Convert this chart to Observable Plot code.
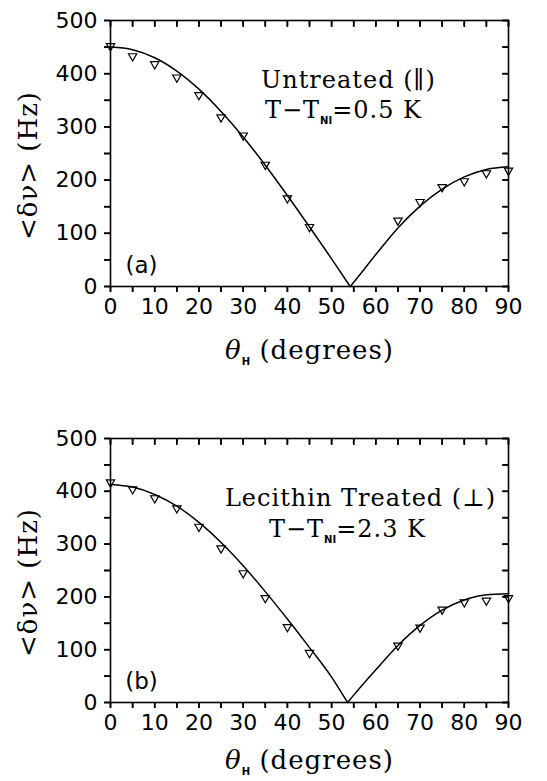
<!DOCTYPE html>
<html><head><meta charset="utf-8">
<script src="https://cdn.jsdelivr.net/npm/d3@7"></script>
<script src="https://cdn.jsdelivr.net/npm/@observablehq/plot@0.6"></script>
<style>
body{margin:0;background:#fff;}
#chart svg{display:block;}
</style></head><body><div id="chart"></div>
<script>
// ---- tick labels ----
const thetaTicks = [0,10,20,30,40,50,60,70,80,90];
const thetaMinorTicks = [0,5,10,15,20,25,30,35,40,45,50,55,60,65,70,75,80,85,90];
const nuTicks = [0,100,200,300,400,500];
const nuMinorTicks = [0,50,100,150,200,250,300,350,400,450,500];

// ---- panel (a): untreated, measured points ----
const thetaA = [0,5,10,15,20,25,30,35,40,45,65,70,75,80,85,90];
const nuA = [452,433,418,393,360,318,284,229,166,112,124,159,187,198,213,218];
// fitted curve (a), two branches meeting at zero
const fitThetaALeft = [0,5,10,15,20,25,30,35,40,45,50,54.2];
const fitNuALeft = [450,445,430,405,371,329,281,228,171,112,52,0];
const fitThetaARight = [54.2,55,60,65,70,75,80,85,90];
const fitNuARight = [0,8,60,110,151,183,206,220,225];

// ---- panel (b): lecithin treated, measured points ----
const thetaB = [0,5,10,15,20,25,30,35,40,45,65,70,75,80,85,90];
const nuB = [417,404,387,368,333,292,245,198,143,94,108,142,176,190,193,198];
const fitThetaBLeft = [0,5,10,15,20,25,30,35,40,45,50,53.6];
const fitNuBLeft = [413,408,394,372,341,303,259,210,158,104,48,0];
const fitThetaBRight = [53.6,55,60,65,70,75,80,85,90];
const fitNuBRight = [0,14,62,108,146,175,194,204,206];

// ---- texts ----
const xTitle = "~θ~_{H} (degrees)";
const yTitle = "<δν> (Hz)";
const labelsA = ["(a)", "Untreated (∥)", "T−T_{NI}=0.5 K"];
const labelsB = ["(b)", "Lecithin Treated (⊥)", "T−T_{NI}=2.3 K"];

const serif = "'DejaVu Serif', serif";
const sans = "'DejaVu Sans', sans-serif";

function rich(svg) {
  d3.select(svg).selectAll("text").each(function () {
    const s = this.textContent;
    if (!/_\{|~/.test(s)) return;
    const parts = s.split(/(_\{[^}]*\}|~[^~]*~)/).filter(p => p !== "");
    const sel = d3.select(this);
    this.textContent = "";
    let shifted = false;
    for (const p of parts) {
      const t = sel.append("tspan");
      if (p.startsWith("_{")) {
        t.text(p.slice(2, -1)).attr("font-size", 10).attr("font-weight", "bold")
          .attr("font-family", sans).attr("dy", 6).attr("letter-spacing", 0);
        shifted = true;
      } else {
        if (shifted) { t.attr("dy", -6); shifted = false; }
        if (p.startsWith("~")) t.text(p.slice(1, -1)).attr("font-style", "italic");
        else t.text(p);
      }
    }
  });
}

const W = 547, ML = 110, MR = 39;
const id = d => d;
const blank = () => "";

function panel(o) {
  const pts = o.theta.map((t, i) => ({theta: t, nu: o.nu[i]}));
  const fit = [
    ...o.fitTL.map((t, i) => ({theta: t, nu: o.fitNL[i], branch: "L"})),
    ...o.fitTR.map((t, i) => ({theta: t, nu: o.fitNR[i], branch: "R"}))
  ];
  const fh = o.h - o.mt - o.mb;   // frame height in px
  const fw = W - ML - MR;         // frame width in px
  const tick = {stroke: "#000", strokeWidth: 1.6};
  const svg = Plot.plot({
    width: W, height: o.h,
    marginLeft: ML, marginRight: MR, marginTop: o.mt, marginBottom: o.mb,
    x: {domain: [0, 90]}, y: {domain: [0, 500]},
    style: {fontFamily: sans, background: "white", color: "black", overflow: "visible"},
    marks: [
      Plot.line(fit, {x: "theta", y: "nu", z: "branch", curve: "monotone-x", stroke: "black", strokeWidth: 1.5}),
      Plot.dot(pts, {x: "theta", y: "nu", symbol: "triangle", rotate: 180, r: 3.1, stroke: "black", strokeWidth: 1.2, fill: "none"}),
      Plot.frame({stroke: "black", strokeWidth: 1.6}),
      // ticks drawn by axis marks: bottom & left outward, top & right inward
      Plot.axisX({anchor: "bottom", ticks: thetaMinorTicks, tickSize: 6, tickFormat: blank, stroke: "#000", strokeWidth: 1.6, label: null}),
      Plot.axisX({anchor: "top", ticks: thetaMinorTicks, tickSize: -6, tickFormat: blank, stroke: "#000", strokeWidth: 1.6, label: null}),
      Plot.axisY({anchor: "left", ticks: nuMinorTicks, tickSize: 6, tickFormat: blank, stroke: "#000", strokeWidth: 1.6, label: null}),
      Plot.axisY({anchor: "right", ticks: nuMinorTicks, tickSize: -6, tickFormat: blank, stroke: "#000", strokeWidth: 1.6, label: null}),
      // the same ticks as short rules
      Plot.ruleX(thetaMinorTicks, {x: id, insetTop: fh - 6, dy: 6, ...tick}),
      Plot.ruleX(thetaMinorTicks, {x: id, insetBottom: fh - 6, ...tick}),
      Plot.ruleY(nuMinorTicks, {y: id, insetRight: fw - 6, dx: -6, ...tick}),
      Plot.ruleY(nuMinorTicks, {y: id, insetLeft: fw - 6, ...tick}),
      Plot.axisX({anchor: "bottom", ticks: thetaTicks, tickSize: 0, tickPadding: 12, fontSize: 22, fontFamily: sans, label: null}),
      Plot.axisY({anchor: "left", ticks: nuTicks, tickSize: 0, tickPadding: 13, fontSize: 22, fontFamily: sans, label: null}),
      Plot.text([o.labels[0]], {frameAnchor: "bottom-left", dx: 31, dy: -14, lineAnchor: "bottom", textAnchor: "middle", fontSize: 23, fontFamily: sans}),
      Plot.text([o.labels[1]], {frameAnchor: "top-left", dx: o.l1x - ML, dy: 67, lineAnchor: "bottom", textAnchor: "middle", fontSize: 24, fontFamily: serif}),
      Plot.text([o.labels[2]], {frameAnchor: "top-left", dx: o.l2x - ML, dy: o.l2dy, lineAnchor: "bottom", textAnchor: "middle", fontSize: 24, fontFamily: serif}),
      Plot.text([xTitle], {frameAnchor: "bottom", dx: 0, dy: o.xtdy, lineAnchor: "bottom", textAnchor: "middle", fontSize: 26, fontFamily: serif}),
      Plot.text([yTitle], {frameAnchor: "left", dx: -82, dy: 12, rotate: -90, lineAnchor: "middle", textAnchor: "middle", fontSize: 26, fontFamily: serif})
    ]
  });
  rich(svg);
  d3.select(svg).selectAll("text").filter(function () {
    const p = this.parentNode;
    return p && p.getAttribute && p.getAttribute("font-family") === serif;
  }).attr("letter-spacing", "1px");
  return svg;
}

const root = document.getElementById("chart");
root.append(panel({
  theta: thetaA, nu: nuA, fitTL: fitThetaALeft, fitNL: fitNuALeft, fitTR: fitThetaARight, fitNR: fitNuARight,
  labels: labelsA, h: 390, mt: 20, mb: 104, l1x: 348, l2x: 343, l2dy: 97, xtdy: 72
}));
root.append(panel({
  theta: thetaB, nu: nuB, fitTL: fitThetaBLeft, fitNL: fitNuBLeft, fitTR: fitThetaBRight, fitNR: fitNuBRight,
  labels: labelsB, h: 391, mt: 48, mb: 79, l1x: 360, l2x: 347, l2dy: 98, xtdy: 66
}));
</script></body></html>
